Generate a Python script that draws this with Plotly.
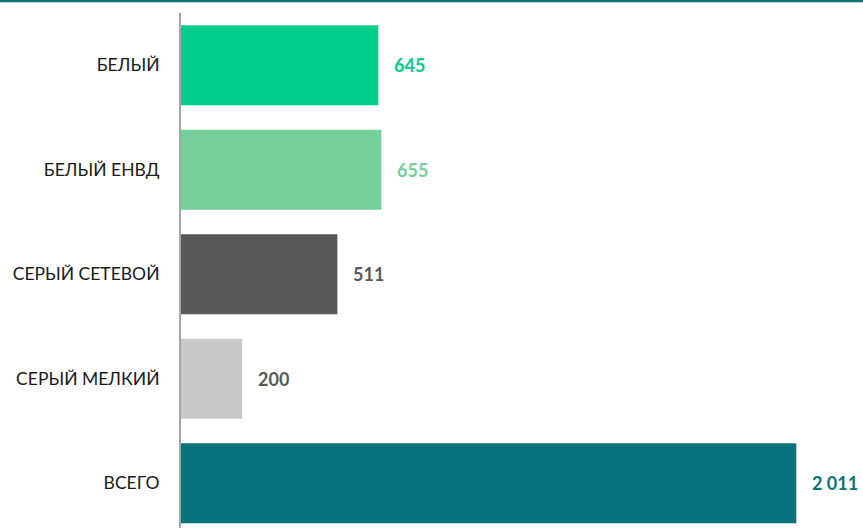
import plotly.graph_objects as go

# Segment names and values
categories = ["БЕЛЫЙ", "БЕЛЫЙ ЕНВД", "СЕРЫЙ СЕТЕВОЙ", "СЕРЫЙ МЕЛКИЙ", "ВСЕГО"]
values = [645, 655, 511, 200, 2011]
value_labels = ["645", "655", "511", "200", "2 011"]

bar_colors = ["#00CC8D", "#74CF9A", "#585856", "#C8C8C8", "#07737B"]
label_colors = ["#00CC8D", "#74CF9A", "#585856", "#585856", "#07737B"]

FONT = "Lato, 'Open Sans', sans-serif"

fig = go.Figure(
    go.Bar(
        x=values,
        y=categories,
        orientation="h",
        marker=dict(color=bar_colors, line=dict(width=0)),
        hoverinfo="skip",
    )
)

# Value labels to the right of each bar
for cat, val, lab, col in zip(categories, values, value_labels, label_colors):
    fig.add_annotation(
        x=val, y=cat, text=f"<b>{lab}</b>", showarrow=False,
        xanchor="left", yanchor="middle", xshift=14,
        font=dict(family=FONT, size=18, color=col),
    )

# Teal rule across the top of the figure
fig.add_shape(
    type="line", xref="paper", yref="paper",
    x0=-181 / 682, x1=1.0, y0=1 + 12 / 515, y1=1 + 12 / 515,
    line=dict(color="#07737B", width=2.5),
)

fig.update_layout(
    width=863, height=528,
    margin=dict(l=181, r=0, t=13, b=0),
    paper_bgcolor="white", plot_bgcolor="white",
    bargap=0.234,
    showlegend=False,
    font=dict(family=FONT, size=17.5, color="#1A1A1A"),
    xaxis=dict(range=[0, 2229], visible=False, fixedrange=True),
    yaxis=dict(
        type="category",
        categoryorder="array", categoryarray=categories,
        range=[4.428, -0.5],
        showline=True, linecolor="#A6A6A6", linewidth=2,
        showgrid=False, zeroline=False, ticks="",
        ticklabelstandoff=16,
        tickfont=dict(family=FONT, size=17.5, color="#1A1A1A"),
        fixedrange=True,
    ),
)

fig.write_html("out.html")
